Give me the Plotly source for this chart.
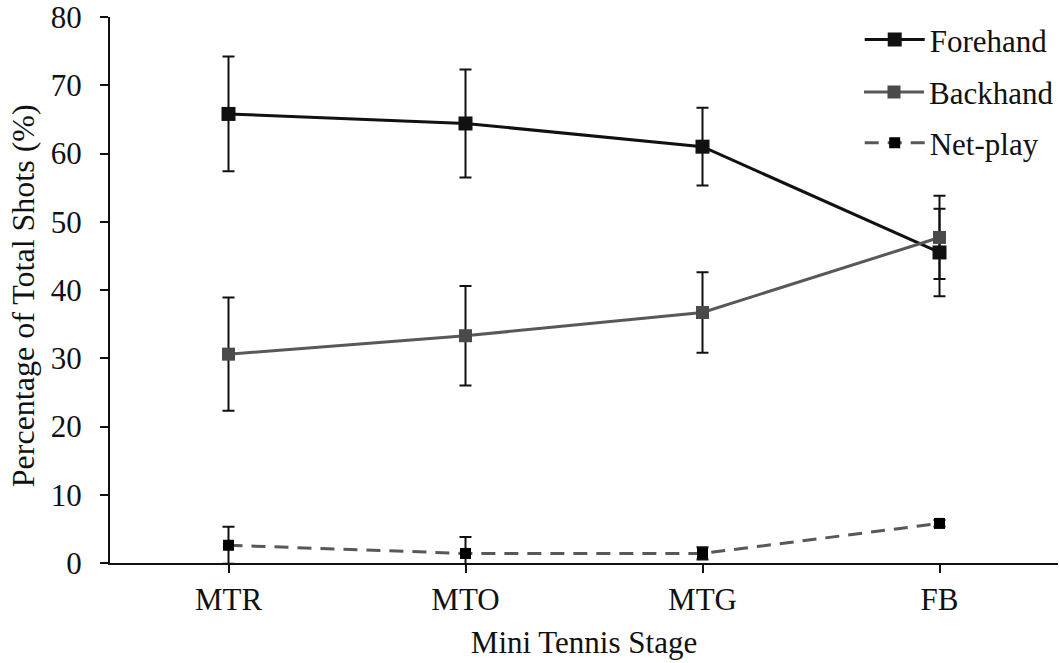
import plotly.graph_objects as go

stages = ["MTR", "MTO", "MTG", "FB"]
forehand = [65.8, 64.4, 61.0, 45.5]
forehand_err = [8.4, 7.9, 5.7, 6.4]
backhand = [30.6, 33.3, 36.7, 47.7]
backhand_err = [8.3, 7.3, 5.9, 6.1]
netplay = [2.6, 1.4, 1.4, 5.8]
netplay_err = [2.7, 2.4, 0.9, 0.5]

FONT = "Liberation Serif, Times New Roman, serif"
FS = 31

fig = go.Figure()

fig.add_trace(go.Scatter(
    x=stages, y=forehand, name="Forehand", mode="lines+markers",
    line=dict(color="#111111", width=3),
    marker=dict(symbol="square", size=14, color="#111111"),
    error_y=dict(type="data", array=forehand_err, color="#111111", thickness=2, width=6),
    legend="legend", showlegend=True,
))
fig.add_trace(go.Scatter(
    x=stages, y=backhand, name="Backhand", mode="lines+markers",
    line=dict(color="#585858", width=3),
    marker=dict(symbol="square", size=13, color="#4a4a4a"),
    error_y=dict(type="data", array=backhand_err, color="#111111", thickness=2, width=6),
    legend="legend2", showlegend=True,
))
fig.add_trace(go.Scatter(
    x=stages, y=netplay, name="Net-play", mode="lines+markers",
    line=dict(color="#585858", width=3, dash="14px,9px"),
    marker=dict(symbol="square", size=11, color="#000000"),
    error_y=dict(type="data", array=netplay_err, color="#111111", thickness=2, width=6),
    legend="legend3", showlegend=True,
))

leg_common = dict(xanchor="left", yanchor="middle", x=0.79,
                  font=dict(family=FONT, size=FS, color="#111111"),
                  bgcolor="rgba(0,0,0,0)", itemwidth=60, visible=True)

fig.update_layout(
    width=1059, height=663,
    margin=dict(l=110, r=0, t=17, b=100),
    paper_bgcolor="white", plot_bgcolor="white",
    font=dict(family=FONT, size=FS, color="#111111"),
    showlegend=True,
    legend=dict(y=0.958, **leg_common),
    legend2=dict(y=0.862, **leg_common),
    legend3=dict(y=0.769, **leg_common),
    xaxis=dict(
        range=[-0.5, 3.5], showline=True, linecolor="#111111", linewidth=2,
        ticks="outside", ticklen=8, tickcolor="#111111", tickwidth=2,
        showgrid=False, zeroline=False, automargin=False,
        tickfont=dict(family=FONT, size=FS, color="#111111"),
        title=dict(text="Mini Tennis Stage", font=dict(family=FONT, size=FS, color="#111111")),
    ),
    yaxis=dict(
        range=[0, 80], dtick=10, showline=True, linecolor="#111111", linewidth=2,
        ticks="outside", ticklen=8, tickcolor="#111111", tickwidth=2,
        ticklabelstandoff=12, ticklabeloverflow="allow",
        showgrid=False, zeroline=False, automargin=False,
        tickfont=dict(family=FONT, size=FS, color="#111111"),
    ),
    annotations=[dict(
        text="Percentage of Total Shots (%)", textangle=-90,
        xref="paper", yref="paper", x=-0.091, y=0.49,
        xanchor="center", yanchor="middle", showarrow=False,
        font=dict(family=FONT, size=32, color="#111111"),
    )],
)

fig.write_html("out.html", config={"displayModeBar": False},
               post_script="document.body.style.margin='0px';")
